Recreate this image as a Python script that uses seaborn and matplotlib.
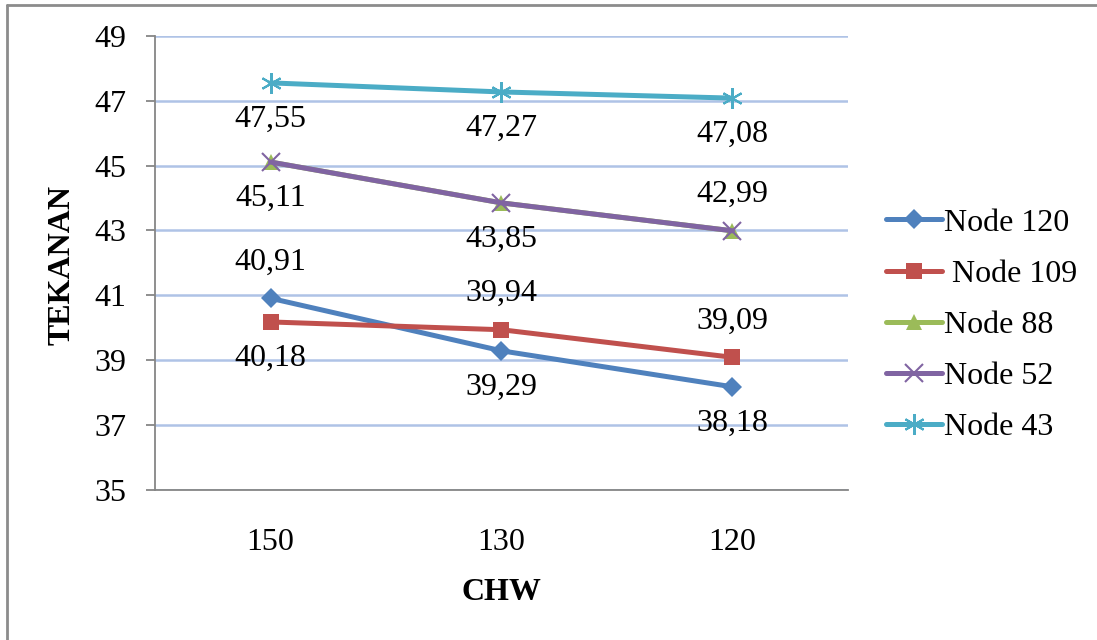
import pandas as pd
import matplotlib
matplotlib.use("Agg")
import matplotlib.pyplot as plt
from matplotlib.lines import Line2D
import seaborn as sns

# data
chw = ["150", "130", "120"]
node_120 = [40.91, 39.29, 38.18]
node_109 = [40.18, 39.94, 39.09]
node_88 = [45.11, 43.85, 42.99]
node_52 = [45.11, 43.85, 42.99]
node_43 = [47.55, 47.27, 47.08]

series = ["Node 120", " Node 109", "Node 88", "Node 52", "Node 43"]
values = [node_120, node_109, node_88, node_52, node_43]
colors = ["#4F81BD", "#C0504D", "#9BBB59", "#8064A2", "#4BACC6"]
markers = ["D", "s", "^", "x", (6, 2, 0)]
msizes = [10, 12, 12, 13, 15]
# +1 label above point, -1 below (None = no label, covered by Node 52)
label_side = [[1, -1, -1], [-1, 1, 1], None, [-1, -1, 1], [-1, -1, -1]]

rows = []
for name, vals in zip(series, values):
    for i, v in enumerate(vals):
        rows.append({"CHW": chw[i], "pos": i, "TEKANAN": v, "series": name})
df = pd.DataFrame(rows)

sns.set_style("white")
plt.rcParams["font.family"] = ["Liberation Serif", "DejaVu Serif"]
plt.rcParams["text.color"] = "black"
plt.rcParams["axes.labelcolor"] = "black"
FS = 23
plt.rcParams["font.size"] = FS

fig = plt.figure(figsize=(10.97, 6.4), dpi=100)
ax = fig.add_axes([0.1413, 0.2344, 0.6317, 0.7096])

for name, c, m, ms, sides in zip(series, colors, markers, msizes, label_side):
    d = df[df["series"] == name]
    sns.lineplot(data=d, x="pos", y="TEKANAN", ax=ax, color=c, marker=m,
                 markersize=ms, linewidth=3.6, label=name,
                 markeredgecolor=c, markeredgewidth=1.5 if m in ("x", (6, 2, 0)) else 0)
    if sides is None:
        continue
    for i, (v, s) in enumerate(zip(d["TEKANAN"], sides)):
        ax.annotate(f"{v:.2f}".replace(".", ","), (i, v), xytext=(0, 26 * s),
                    textcoords="offset points", ha="center", va="center",
                    fontsize=FS, color="black")

ax.set_xlim(-0.5, 2.5)
ax.set_ylim(35, 49)
ax.set_yticks(range(35, 50, 2))
ax.set_xticks(range(len(chw)))
ax.set_xticklabels(chw)
ax.grid(axis="y", color="#AFC3E6", linewidth=1.8)
ax.set_axisbelow(True)
for sp in ["top", "right"]:
    ax.spines[sp].set_visible(False)
for sp in ["left", "bottom"]:
    ax.spines[sp].set_color("#868686")
    ax.spines[sp].set_linewidth(1.3)
ax.tick_params(axis="y", left=True, length=6.5, width=1.3, color="#868686", pad=14,
               labelsize=FS, labelcolor="black")
ax.tick_params(axis="x", bottom=False, pad=24, labelsize=FS, labelcolor="black")

ax.set_xlabel("CHW", fontweight="bold", fontsize=FS)
ax.set_ylabel("TEKANAN", fontweight="bold", fontsize=FS)
ax.xaxis.set_label_coords(0.5, -0.225)
ax.xaxis.label.set_va("center")
ax.yaxis.set_label_coords(-0.134, 0.496)
ax.yaxis.label.set_va("center")

leg = ax.legend(loc="center left", bbox_to_anchor=(0.796, 0.492), bbox_transform=fig.transFigure,
                frameon=False, fontsize=FS, handlelength=1.75, handletextpad=0.08,
                labelspacing=0.68, borderaxespad=0)
for t in leg.get_texts():
    t.set_color("black")

# outer frame (only left and top edges visible)
fig.add_artist(Line2D([0.0068, 0.0068], [0, 0.992], transform=fig.transFigure,
                      color="#8c8c8c", linewidth=2))
fig.add_artist(Line2D([0.0068, 1], [0.992, 0.992], transform=fig.transFigure,
                      color="#8c8c8c", linewidth=2))

fig.savefig("out.png", dpi=100)
